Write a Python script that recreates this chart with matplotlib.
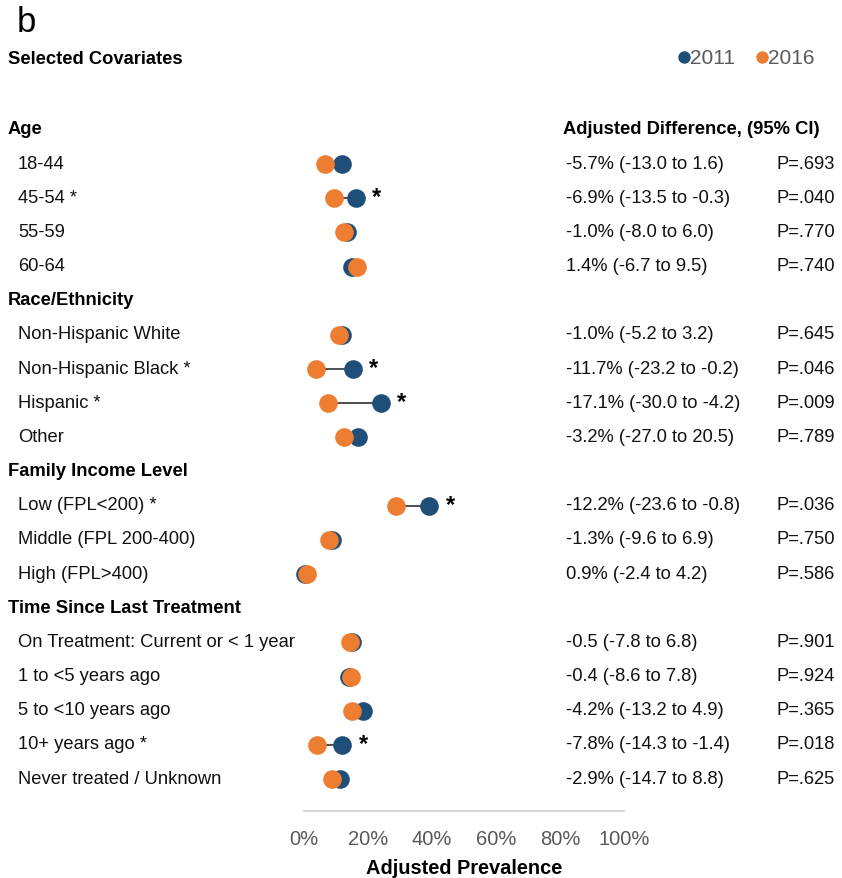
import matplotlib
matplotlib.use("Agg")
import matplotlib.pyplot as plt
from matplotlib.transforms import blended_transform_factory

plt.rcParams['font.family'] = ['Liberation Sans', 'DejaVu Sans']

# ---------------- data ----------------
groups = ["Age", "Race/Ethnicity", "Family Income Level", "Time Since Last Treatment"]
categories = [
    ["18-44", "45-54 *", "55-59", "60-64"],
    ["Non-Hispanic White", "Non-Hispanic Black *", "Hispanic *", "Other"],
    ["Low (FPL<200) *", "Middle (FPL 200-400)", "High (FPL>400)"],
    ["On Treatment: Current or < 1 year", "1 to <5 years ago", "5 to <10 years ago",
     "10+ years ago *", "Never treated / Unknown"],
]
prev_2011 = [
    [12.0, 16.2, 13.4, 15.0],
    [11.8, 15.3, 24.0, 17.0],
    [39.2, 8.6, 0.2],
    [14.9, 14.0, 18.3, 12.0, 11.4],
]
prev_2016 = [
    [6.5, 9.5, 12.4, 16.6],
    [11.0, 3.6, 7.6, 12.5],
    [28.7, 7.9, 1.0],
    [14.4, 14.6, 15.0, 4.2, 8.9],
]
significant = [
    [False, True, False, False],
    [False, True, True, False],
    [True, False, False],
    [False, False, False, True, False],
]
adj_diff = [
    ["-5.7% (-13.0 to 1.6)", "-6.9% (-13.5 to -0.3)", "-1.0% (-8.0 to 6.0)", "1.4% (-6.7 to 9.5)"],
    ["-1.0% (-5.2 to 3.2)", "-11.7% (-23.2 to -0.2)", "-17.1% (-30.0 to -4.2)", "-3.2% (-27.0 to 20.5)"],
    ["-12.2% (-23.6 to -0.8)", "-1.3% (-9.6 to 6.9)", "0.9% (-2.4 to 4.2)"],
    ["-0.5 (-7.8 to 6.8)", "-0.4 (-8.6 to 7.8)", "-4.2% (-13.2 to 4.9)",
     "-7.8% (-14.3 to -1.4)", "-2.9% (-14.7 to 8.8)"],
]
p_values = [
    ["P=.693", "P=.040", "P=.770", "P=.740"],
    ["P=.645", "P=.046", "P=.009", "P=.789"],
    ["P=.036", "P=.750", "P=.586"],
    ["P=.901", "P=.924", "P=.365", "P=.018", "P=.625"],
]
x_ticks = [0, 20, 40, 60, 80, 100]
x_ticklabels = ["0%", "20%", "40%", "60%", "80%", "100%"]

# ---------------- style ----------------
W, H = 842, 879
BLUE = "#1F4E79"
ORANGE = "#ED7D31"
GRAY = "#595959"
FS = 13.2

fig = plt.figure(figsize=(W / 100, H / 100), dpi=100)

x0_px, x1_px = 304, 624
row0_px, row_step = 130, 34.16
y_bottom_px = 812
y_top_px = 110
ax = fig.add_axes([x0_px / W, 1 - y_bottom_px / H, (x1_px - x0_px) / W, (y_bottom_px - y_top_px) / H])
ax.set_xlim(0, 100)
ax.set_ylim((y_bottom_px - row0_px) / row_step, (y_top_px - row0_px) / row_step)
ax.patch.set_alpha(0)
for s in ["top", "left", "right"]:
    ax.spines[s].set_visible(False)
ax.spines["bottom"].set_color("#D0D0D0")
ax.spines["bottom"].set_linewidth(1.2)
ax.set_yticks([])
ax.set_xticks(x_ticks)
ax.set_xticklabels(x_ticklabels, fontsize=14.5, color=GRAY)
ax.tick_params(axis="x", length=0, pad=13)
ax.set_xlabel("Adjusted Prevalence", fontsize=14.4, fontweight="bold", labelpad=7)

tr = blended_transform_factory(fig.transFigure, ax.transData)
dot_dy = 1.0 / row_step  # dots sit ~1px below the text centre

row = 0
for g, cats in enumerate(categories):
    ax.text(8 / W, row, groups[g], transform=tr, fontsize=FS, fontweight="bold",
            ha="left", va="center")
    if g == 0:
        ax.text(563 / W, row, "Adjusted Difference, (95% CI)", transform=tr, fontsize=FS,
                fontweight="bold", ha="left", va="center")
    row += 1
    for i, c in enumerate(cats):
        b, o = prev_2011[g][i], prev_2016[g][i]
        yd = row + dot_dy
        ax.plot([b, o], [yd, yd], color="#404040", lw=1.3, zorder=1, solid_capstyle="butt",
                clip_on=False)
        ax.scatter([b], [yd], s=180, color=BLUE, zorder=2, linewidths=0, clip_on=False)
        ax.scatter([o], [yd], s=180, color=ORANGE, zorder=3, linewidths=0, clip_on=False)
        if significant[g][i]:
            ax.annotate("*", (max(b, o), yd), xytext=(15, 1), textcoords="offset points",
                        fontsize=17, fontweight="bold", ha="center", va="center")
        ax.text(18 / W, row, c, transform=tr, fontsize=FS, ha="left", va="center", color="#111111")
        ax.text(566 / W, row, adj_diff[g][i], transform=tr, fontsize=FS, ha="left", va="center", color="#111111")
        ax.text(777 / W, row, p_values[g][i], transform=tr, fontsize=FS, ha="left", va="center", color="#111111")
        row += 1

fig.text(17 / W, 1 - 22 / H, "b", fontsize=25, ha="left", va="center")
fig.text(8 / W, 1 - 60 / H, "Selected Covariates", fontsize=FS, fontweight="bold", ha="left", va="center")

# legend
ax_leg = fig.add_axes([0, 0, 1, 1])
ax_leg.set_xlim(0, W)
ax_leg.set_ylim(H, 0)
ax_leg.axis("off")
ax_leg.scatter([684], [58], s=80, color=BLUE, linewidths=0)
ax_leg.text(690, 58, "2011", fontsize=15, color=GRAY, ha="left", va="center")
ax_leg.scatter([762], [58], s=80, color=ORANGE, linewidths=0)
ax_leg.text(768, 58, "2016", fontsize=15, color=GRAY, ha="left", va="center")

fig.savefig("out.png", dpi=100)
